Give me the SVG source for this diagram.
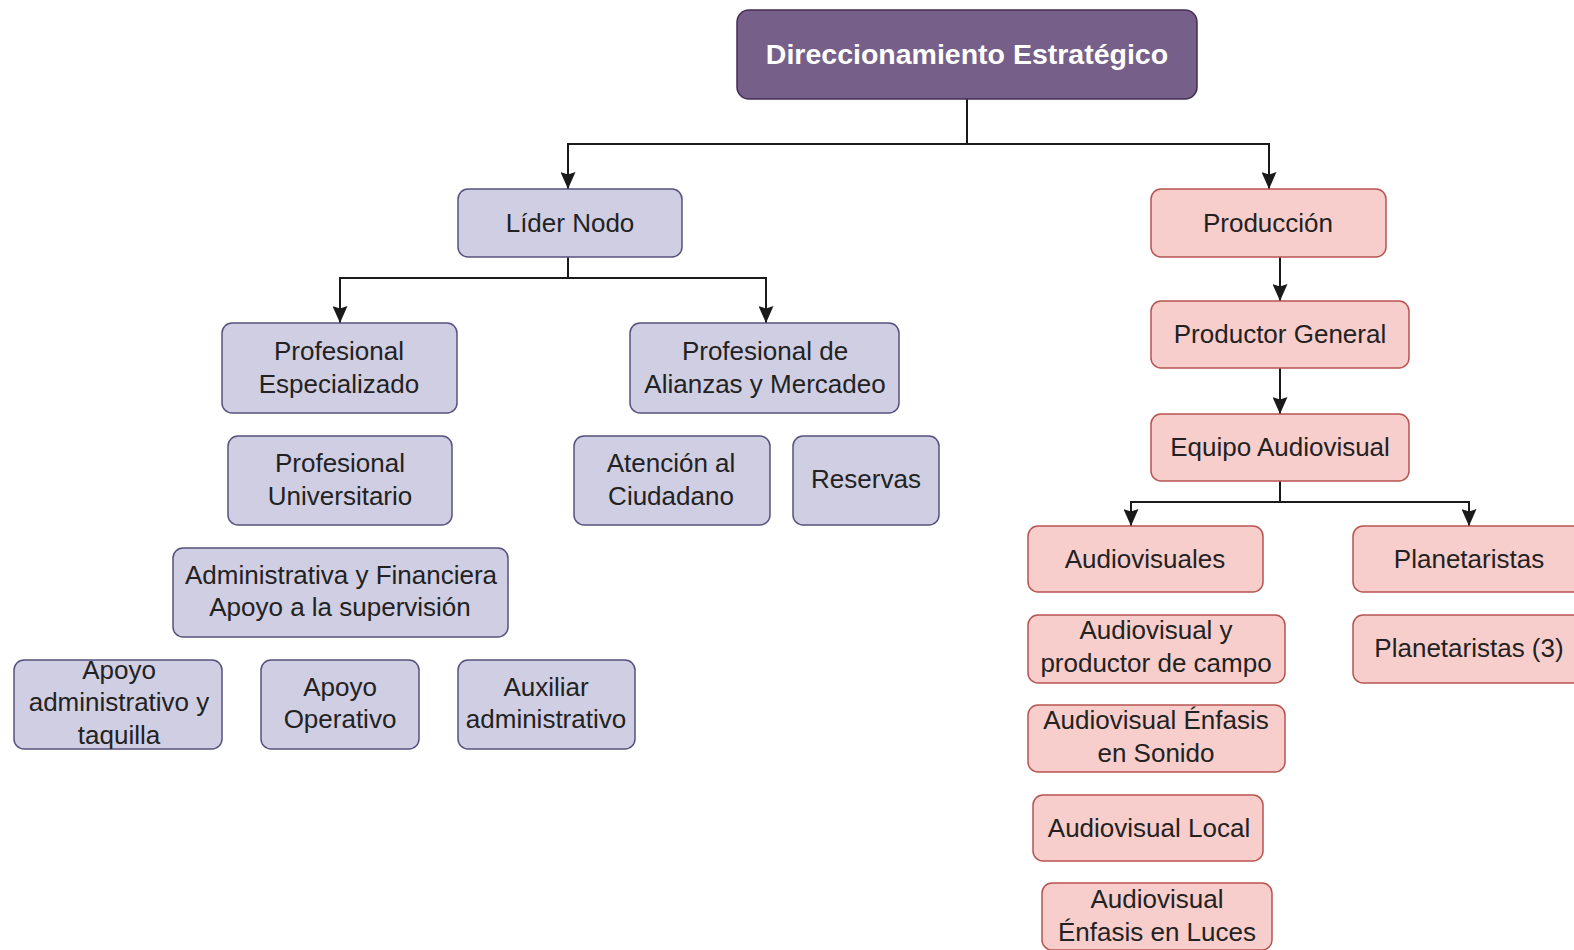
<svg xmlns="http://www.w3.org/2000/svg" width="1574" height="950" viewBox="0 0 1574 950">
<defs>
<style>
.lav{fill:#d0cee2;stroke:#56517e;stroke-width:1.5}
.pink{fill:#f8cecc;stroke:#b85450;stroke-width:1.5}
.top{fill:#76608a;stroke:#432d57;stroke-width:1.5}
.t{font-family:"Liberation Sans",Arial,sans-serif;font-size:26px;fill:#222;text-anchor:middle}
.tb{font-family:"Liberation Sans",Arial,sans-serif;font-size:28.5px;font-weight:bold;fill:#ffffff;text-anchor:middle}
.c{fill:none;stroke:#1a1a1a;stroke-width:2}
</style>
<marker id="arr" markerUnits="userSpaceOnUse" markerWidth="17" markerHeight="15" viewBox="0 0 17 15" refX="17" refY="7.5" orient="auto">
<path d="M0,0 L17,7.5 L0,15 L2.5,7.5 Z" fill="#1a1a1a"/>
</marker>
</defs>
<rect width="1574" height="950" fill="#ffffff"/>

<g id="connectors">
<path class="c" d="M967,99 V144 H568 V189" marker-end="url(#arr)"/>
<path class="c" d="M967,144 H1269 V189" marker-end="url(#arr)"/>
<path class="c" d="M568,257 V278 H340 V323" marker-end="url(#arr)"/>
<path class="c" d="M568,278 H766 V323" marker-end="url(#arr)"/>
<path class="c" d="M1280,257 V301" marker-end="url(#arr)"/>
<path class="c" d="M1280,368 V414" marker-end="url(#arr)"/>
<path class="c" d="M1280,481 V502 H1131 V526" marker-end="url(#arr)"/>
<path class="c" d="M1280,502 H1469 V526" marker-end="url(#arr)"/>
</g>

<g id="direccionamiento">
<rect class="top" x="737" y="10" width="460" height="89" rx="12"/>
<text class="tb" x="967" y="64">Direccionamiento Estratégico</text>
</g>

<g id="lider-nodo">
<rect class="lav" x="458" y="189" width="224" height="68" rx="10"/>
<text class="t" x="570" y="232">Líder Nodo</text>
</g>
<g id="prof-especializado">
<rect class="lav" x="222" y="323" width="235" height="90" rx="10"/>
<text class="t" x="339" y="360">Profesional</text>
<text class="t" x="339" y="393">Especializado</text>
</g>
<g id="prof-universitario">
<rect class="lav" x="228" y="436" width="224" height="89" rx="10"/>
<text class="t" x="340" y="472">Profesional</text>
<text class="t" x="340" y="505">Universitario</text>
</g>
<g id="admin-financiera">
<rect class="lav" x="173" y="548" width="335" height="89" rx="10"/>
<text class="t" x="341" y="584">Administrativa y Financiera</text>
<text class="t" x="340" y="616">Apoyo a la supervisión</text>
</g>
<g id="apoyo-admin">
<rect class="lav" x="14" y="660" width="208" height="89" rx="10"/>
<text class="t" x="119" y="679">Apoyo</text>
<text class="t" x="119" y="711">administrativo y</text>
<text class="t" x="119" y="744">taquilla</text>
</g>
<g id="apoyo-operativo">
<rect class="lav" x="261" y="660" width="158" height="89" rx="10"/>
<text class="t" x="340" y="696">Apoyo</text>
<text class="t" x="340" y="728">Operativo</text>
</g>
<g id="auxiliar-admin">
<rect class="lav" x="458" y="660" width="177" height="89" rx="10"/>
<text class="t" x="546" y="696">Auxiliar</text>
<text class="t" x="546" y="728">administrativo</text>
</g>
<g id="prof-alianzas">
<rect class="lav" x="630" y="323" width="269" height="90" rx="10"/>
<text class="t" x="765" y="360">Profesional de</text>
<text class="t" x="765" y="393">Alianzas y Mercadeo</text>
</g>
<g id="atencion">
<rect class="lav" x="574" y="436" width="196" height="89" rx="10"/>
<text class="t" x="671" y="472">Atención al</text>
<text class="t" x="671" y="505">Ciudadano</text>
</g>
<g id="reservas">
<rect class="lav" x="793" y="436" width="146" height="89" rx="10"/>
<text class="t" x="866" y="488">Reservas</text>
</g>

<g id="produccion">
<rect class="pink" x="1151" y="189" width="235" height="68" rx="10"/>
<text class="t" x="1268" y="232">Producción</text>
</g>
<g id="productor-general">
<rect class="pink" x="1151" y="301" width="258" height="67" rx="10"/>
<text class="t" x="1280" y="343">Productor General</text>
</g>
<g id="equipo-audiovisual">
<rect class="pink" x="1151" y="414" width="258" height="67" rx="10"/>
<text class="t" x="1280" y="456">Equipo Audiovisual</text>
</g>
<g id="audiovisuales">
<rect class="pink" x="1028" y="526" width="235" height="66" rx="10"/>
<text class="t" x="1145" y="568">Audiovisuales</text>
</g>
<g id="av-productor-campo">
<rect class="pink" x="1028" y="615" width="257" height="68" rx="10"/>
<text class="t" x="1156" y="639">Audiovisual y</text>
<text class="t" x="1156" y="672">productor de campo</text>
</g>
<g id="av-enfasis-sonido">
<rect class="pink" x="1028" y="705" width="257" height="67" rx="10"/>
<text class="t" x="1156" y="729">Audiovisual Énfasis</text>
<text class="t" x="1156" y="762">en Sonido</text>
</g>
<g id="av-local">
<rect class="pink" x="1033" y="795" width="230" height="66" rx="10"/>
<text class="t" x="1149" y="837">Audiovisual Local</text>
</g>
<g id="av-enfasis-luces">
<rect class="pink" x="1042" y="883" width="230" height="67" rx="10"/>
<text class="t" x="1157" y="908">Audiovisual</text>
<text class="t" x="1157" y="941">Énfasis en Luces</text>
</g>
<g id="planetaristas">
<rect class="pink" x="1353" y="526" width="235" height="66" rx="10"/>
<text class="t" x="1469" y="568">Planetaristas</text>
</g>
<g id="planetaristas-3">
<rect class="pink" x="1353" y="615" width="235" height="68" rx="10"/>
<text class="t" x="1469" y="657">Planetaristas (3)</text>
</g>
</svg>
